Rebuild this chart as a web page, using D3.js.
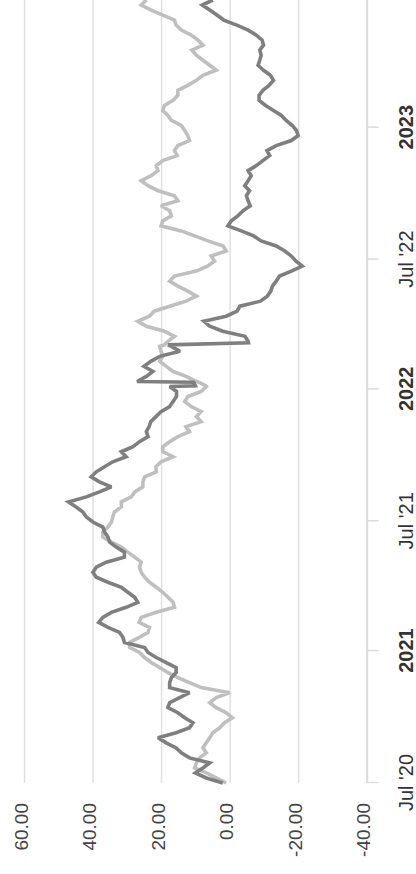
<!DOCTYPE html>
<html>
<head>
<meta charset="utf-8">
<script src="https://cdn.jsdelivr.net/npm/d3@7"></script>
<style>
    html, body { margin: 0; padding: 0; background: #ffffff; }
    svg { display: block; }
    .valueAxis text { font-family: "Liberation Sans", Arial, sans-serif; font-size: 19px; fill: #444444; }
    .timeAxis text { font-family: "Liberation Sans", Arial, sans-serif; font-size: 20px; fill: #333333; }
    .timeAxis text.year { font-weight: bold; }
</style>
</head>
<body>
<div class="chart"></div>
<script>
// weekly readings, plus a few extra days around the two jumps in early 2022
const dates = [
    "2020-07-01", "2020-07-08", "2020-07-15", "2020-07-22", "2020-07-29",
    "2020-08-05", "2020-08-12", "2020-08-19", "2020-08-26",
    "2020-09-02", "2020-09-09", "2020-09-16", "2020-09-23", "2020-09-30",
    "2020-10-07", "2020-10-14", "2020-10-21", "2020-10-28",
    "2020-11-04", "2020-11-11", "2020-11-18", "2020-11-25",
    "2020-12-02", "2020-12-09", "2020-12-16", "2020-12-23", "2020-12-30",
    "2021-01-06", "2021-01-13", "2021-01-20", "2021-01-27",
    "2021-02-03", "2021-02-10", "2021-02-17", "2021-02-24",
    "2021-03-03", "2021-03-10", "2021-03-17", "2021-03-24", "2021-03-31",
    "2021-04-07", "2021-04-14", "2021-04-21", "2021-04-28",
    "2021-05-05", "2021-05-12", "2021-05-19", "2021-05-26",
    "2021-06-02", "2021-06-09", "2021-06-16", "2021-06-23", "2021-06-30",
    "2021-07-07", "2021-07-14", "2021-07-21", "2021-07-28",
    "2021-08-04", "2021-08-11", "2021-08-18", "2021-08-25",
    "2021-09-01", "2021-09-08", "2021-09-15", "2021-09-22", "2021-09-29",
    "2021-10-06", "2021-10-13", "2021-10-20", "2021-10-27",
    "2021-11-03", "2021-11-10", "2021-11-17", "2021-11-24",
    "2021-12-01", "2021-12-08", "2021-12-15", "2021-12-22", "2021-12-29",
    "2022-01-05", "2022-01-06", "2022-01-11", "2022-01-12", "2022-01-19", "2022-01-26",
    "2022-02-02", "2022-02-09", "2022-02-16", "2022-02-23",
    "2022-03-02", "2022-03-04", "2022-03-07", "2022-03-09", "2022-03-16", "2022-03-23", "2022-03-30",
    "2022-04-06", "2022-04-13", "2022-04-20", "2022-04-27",
    "2022-05-04", "2022-05-11", "2022-05-18", "2022-05-25",
    "2022-06-01", "2022-06-08", "2022-06-15", "2022-06-22", "2022-06-29",
    "2022-07-06", "2022-07-13", "2022-07-20", "2022-07-27",
    "2022-08-03", "2022-08-10", "2022-08-17", "2022-08-24", "2022-08-31",
    "2022-09-07", "2022-09-14", "2022-09-21", "2022-09-28",
    "2022-10-05", "2022-10-12", "2022-10-19", "2022-10-26",
    "2022-11-02", "2022-11-09", "2022-11-16", "2022-11-23", "2022-11-30",
    "2022-12-07", "2022-12-14", "2022-12-21", "2022-12-28",
    "2023-01-04", "2023-01-11", "2023-01-18", "2023-01-25",
    "2023-02-01", "2023-02-08", "2023-02-15", "2023-02-22",
    "2023-03-01", "2023-03-08", "2023-03-15", "2023-03-22", "2023-03-29",
    "2023-04-05", "2023-04-12", "2023-04-19", "2023-04-26",
    "2023-05-03", "2023-05-10", "2023-05-17", "2023-05-24", "2023-05-31",
    "2023-06-07", "2023-06-14", "2023-06-21", "2023-06-28"
];

const darkSeries = [
    2.0, 6.8, 10.0, 7.8, 5.8,
    11.7, 14.1, 15.6, 18.5,
    20.9, 15.6, 11.7, 10.7, 13.1,
    15.1, 18.0, 17.5, 14.6,
    11.7, 17.5, 17.5, 17.0,
    15.6, 15.6, 18.5, 21.4, 23.8,
    24.8, 30.7, 31.1, 32.1,
    35.5, 38.2, 37.0, 34.5,
    30.2, 26.8, 27.7, 29.7, 31.6,
    35.5, 38.9, 39.9, 38.9,
    36.0, 30.7, 30.7, 33.1,
    35.0, 35.5, 36.5, 37.0, 39.9,
    41.8, 42.8, 44.8, 47.0,
    41.8, 38.0, 34.5, 38.0,
    40.4, 38.9, 36.5, 34.1, 30.2,
    31.6, 28.2, 26.3, 23.8,
    24.3, 23.5, 23.0, 21.5,
    20.0, 17.5, 16.5, 15.5, 15.5,
    17.5, 10.0, 10.5, 27.0, 24.3, 22.4,
    25.0, 23.0, 20.4, 14.5,
    17.0, 18.0, -5.5, -5.4, -4.5, 2.0, 5.8,
    7.5, 1.0, -2.2, -3.0,
    -9.0, -11.0, -12.0, -12.5,
    -13.6, -14.6, -18.0, -21.2, -19.3,
    -18.0, -16.1, -13.6, -9.2,
    -7.0, -3.4, 0.5, -0.5, -2.4,
    -3.9, -6.0, -5.4, -4.9,
    -5.8, -4.4, -5.4, -6.3,
    -5.4, -7.8, -9.7, -11.7, -10.9,
    -13.6, -18.0, -20.0, -19.5,
    -18.3, -16.5, -15.1, -12.8,
    -10.5, -8.6, -8.6, -9.7,
    -11.5, -12.8, -11.9, -9.9, -8.3,
    -8.8, -9.2, -8.8, -9.9,
    -9.5, -7.8, -5.4, -2.1, 1.7,
    3.7, 5.8, 8.0, 4.9
];

const lightSeries = [
    1.0, 3.9, 6.8, 10.2, 9.7,
    8.8, 6.8, 7.8, 6.8,
    5.8, 4.9, 2.9, 1.5, -0.8,
    1.0, 3.9, 5.8, 3.9,
    0.0, 8.3, 11.7, 15.1,
    18.0, 20.4, 22.9, 24.8, 26.3,
    29.2, 29.2, 26.3, 23.8,
    23.4, 26.4, 25.8, 21.4,
    16.1, 16.5, 18.0, 19.5, 21.4,
    23.4, 24.8, 25.8, 26.3,
    25.8, 27.7, 29.7, 31.6,
    34.5, 37.0, 37.0, 35.5, 34.5,
    34.1, 33.6, 31.6, 31.6,
    28.7, 27.7, 25.3, 25.3,
    24.8, 21.4, 21.5, 20.0, 16.5,
    19.5, 19.5, 17.5, 15.1,
    11.7, 12.7, 8.3, 9.7,
    8.3, 11.2, 13.1, 12.2, 8.3,
    6.8, 7.0, 9.0, 9.7, 12.7, 16.5,
    18.5, 20.4, 19.5, 20.0,
    20.4, 19.0, 18.5, 18.0, 16.1, 19.0, 24.3,
    26.8, 23.4, 22.0, 17.5,
    12.7, 9.7, 12.2, 15.1,
    17.5, 16.1, 9.7, 6.3, 4.4,
    5.4, 1.0, 1.9, 6.3,
    10.2, 14.1, 20.0, 19.5, 17.0,
    17.5, 20.0, 15.1, 16.1,
    20.9, 23.8, 25.8, 22.9,
    20.9, 21.4, 19.5, 15.3, 16.1,
    15.1, 11.7, 12.2, 13.1,
    14.1, 17.0, 18.0, 19.5,
    19.0, 16.5, 15.1, 15.1,
    12.2, 9.7, 7.8, 3.9, 5.8,
    7.8, 9.7, 11.0, 7.8,
    9.2, 11.2, 14.1, 15.6, 16.1,
    19.5, 22.9, 25.8, 24.3
];

const valueTicks = [60, 40, 20, 0, -20, -40];
const timeTicks = ["2020-07-01", "2021-01-01", "2021-07-01", "2022-01-01", "2022-07-01", "2023-01-01"];
const timeTickLabels = ["Jul '20", "2021", "Jul '21", "2022", "Jul '22", "2023"];

const parseDate = d3.timeParse("%Y-%m-%d");

class RotatedLineChart {

    // drawn landscape, then turned a quarter to the left
    static width = 874;
    static height = 416;
    static left = 91;

    svg;
    plot;
    x;
    y;

    constructor() {
        this.x = d3.scaleTime()
            .domain([parseDate("2020-07-01"), parseDate("2023-06-28")])
            .range([RotatedLineChart.left, RotatedLineChart.width]);
        this.y = d3.scaleLinear()
            .domain([-40, 60])
            .range([366.7, 24]);
        this.setUpSvg();
    }

    setUpSvg() {
        this.svg = d3.select(".chart")
            .append("svg")
            .attr("width", RotatedLineChart.height)
            .attr("height", RotatedLineChart.width);
        this.plot = this.svg.append("g")
            .attr("transform", "translate(0," + RotatedLineChart.width + ") rotate(-90)");
    }

    drawValueAxis() {
        const axis = d3.axisLeft(this.y)
            .tickValues(valueTicks)
            .tickSize(-(RotatedLineChart.width - RotatedLineChart.left))
            .tickPadding(20)
            .tickFormat(d => d.toFixed(2));
        const g = this.plot.append("g")
            .attr("class", "valueAxis")
            .attr("transform", "translate(" + RotatedLineChart.left + ",0)")
            .call(axis);
        g.select(".domain").remove();
        g.selectAll(".tick line")
            .attr("stroke", "#e0e0e0")
            .attr("stroke-width", 1.5);
        g.selectAll(".tick text").attr("dy", "0.16em");
    }

    drawTimeAxis() {
        const axis = d3.axisBottom(this.x)
            .tickValues(timeTicks.map(parseDate))
            .tickSize(12)
            .tickSizeOuter(0)
            .tickPadding(20)
            .tickFormat((d, i) => timeTickLabels[i]);
        const g = this.plot.append("g")
            .attr("class", "timeAxis")
            .attr("transform", "translate(0," + this.y(-40) + ")")
            .call(axis);
        g.select(".domain")
            .attr("stroke", "#dcdcdc")
            .attr("stroke-width", 2);
        g.selectAll(".tick line")
            .attr("stroke", "#dcdcdc")
            .attr("stroke-width", 1.5);
        g.selectAll(".tick text")
            .classed("year", (d, i) => !timeTickLabels[i].startsWith("Jul"));
    }

    drawSeries(values, colour) {
        const points = dates.map((d, i) => ({date: parseDate(d), value: values[i]}));
        const line = d3.line()
            .x(d => this.x(d.date))
            .y(d => this.y(d.value));
        this.plot.append("path")
            .datum(points)
            .attr("fill", "none")
            .attr("stroke", colour)
            .attr("stroke-width", 3.6)
            .attr("stroke-linejoin", "miter")
            .attr("stroke-miterlimit", 2.5)
            .attr("d", line);
    }

    static launch() {
        const chart = new RotatedLineChart();
        chart.drawValueAxis();
        chart.drawTimeAxis();
        chart.drawSeries(lightSeries, "#bfbfbf");
        chart.drawSeries(darkSeries, "#7f7f7f");
    }
}

RotatedLineChart.launch();
</script>
</body>
</html>
